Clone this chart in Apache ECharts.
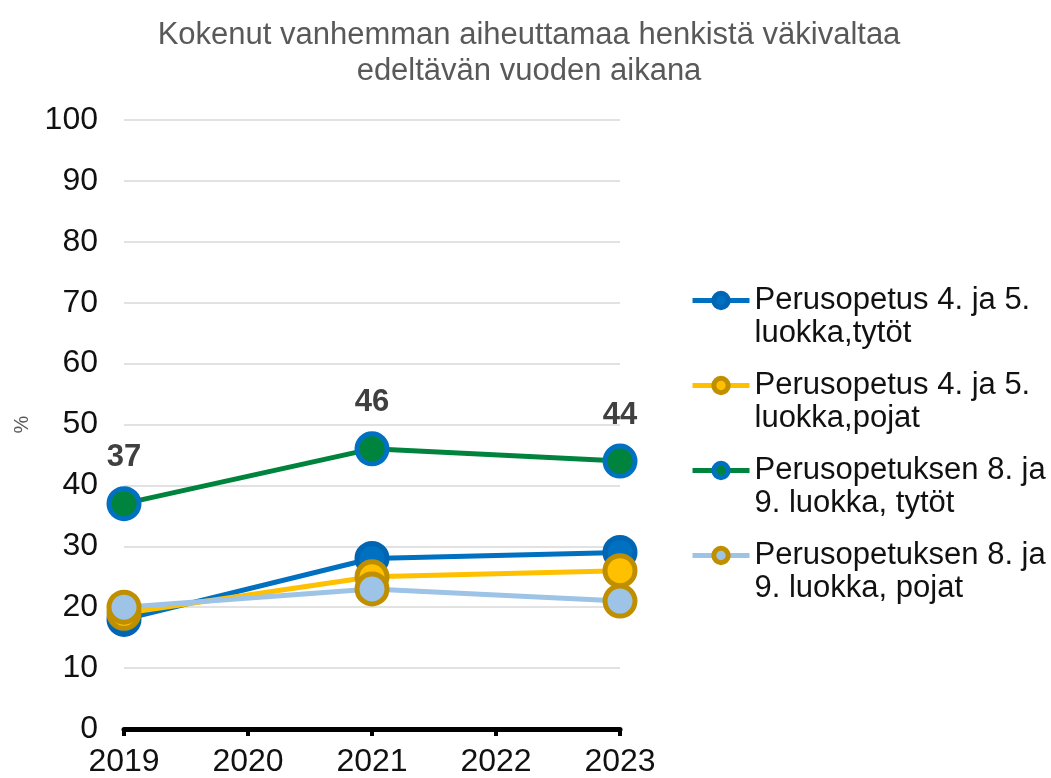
<!DOCTYPE html>
<html>
<head>
<meta charset="utf-8">
<script src="https://cdn.jsdelivr.net/npm/echarts@6/dist/echarts.min.js"></script>
<style>
  html, body { margin: 0; padding: 0; background: #fff; }
  #chart { width: 1051px; height: 778px; }
</style>
</head>
<body>
<div id="chart"></div>
<script>
// data
const years = [2019, 2021, 2023];
const seriesNames = [
  'Perusopetus 4. ja 5.\nluokka,tytöt',
  'Perusopetus 4. ja 5.\nluokka,pojat',
  'Perusopetuksen 8. ja\n9. luokka, tytöt',
  'Perusopetuksen 8. ja\n9. luokka, pojat'
];
const girls45 = [18, 28, 29];
const boys45 = [19, 25, 26];
const girls89 = [37, 46, 44];
const boys89 = [20, 23, 21];
const xTicks = [2019, 2020, 2021, 2022, 2023];

const lineColors = ['#0070C0', '#FFC000', '#00843D', '#9DC3E6'];
const fillColors = ['#0070C0', '#FFC000', '#00843D', '#9DC3E6'];
const borderColors = ['#0066B3', '#BF8F00', '#0070C0', '#BF8F00'];
const values = [girls45, boys45, girls89, boys89];

const chart = echarts.init(document.getElementById('chart'));

const series = values.map((vals, i) => ({
  name: seriesNames[i],
  type: 'line',
  data: years.map((y, k) => [y, vals[k]]),
  symbol: 'circle',
  symbolSize: 30,
  lineStyle: { color: lineColors[i], width: 5 },
  itemStyle: { color: fillColors[i], borderColor: borderColors[i], borderWidth: 5 },
  label: i === 2 ? {
    show: true, position: 'top', distance: 13,
    fontFamily: 'Liberation Sans', fontSize: 31, fontWeight: 'bold', color: '#404040'
  } : { show: false },
  emphasis: { disabled: true },
  animation: false
}));

// one legend per entry; a blank first line keeps the icon level with the first text line
const legendTops = [251, 336, 421, 506];
const legends = seriesNames.map((n, i) => ({
  data: [n],
  left: 690,
  top: legendTops[i],
  padding: 0,
  itemWidth: 57,
  itemHeight: 18,
  selectedMode: false,
  formatter: name => ' \n' + name,
  lineStyle: { width: 5 },
  itemStyle: { borderWidth: 5 },
  textStyle: { fontFamily: 'Liberation Sans', fontSize: 31, lineHeight: 33, color: '#111' }
}));

chart.setOption({
  animation: false,
  title: {
    text: 'Kokenut vanhemman aiheuttamaa henkistä väkivaltaa\nedeltävän vuoden aikana',
    left: 524, top: 12, textAlign: 'center',
    textStyle: { fontFamily: 'Liberation Sans', fontSize: 31, lineHeight: 36, fontWeight: 'normal', color: '#595959' }
  },
  legend: legends,
  grid: { left: 124, right: 431, top: 120, bottom: 49, containLabel: false },
  xAxis: {
    type: 'value', min: xTicks[0], max: xTicks[xTicks.length - 1], interval: 1,
    axisLine: { show: true, lineStyle: { color: '#000', width: 5 } },
    axisTick: { show: true, length: 7, lineStyle: { color: '#000', width: 4 } },
    splitLine: { show: false },
    axisLabel: {
      margin: 17, fontFamily: 'Liberation Sans', fontSize: 32, color: '#111',
      formatter: v => String(v)
    }
  },
  yAxis: {
    type: 'value', min: 0, max: 100, interval: 10,
    name: '%', nameLocation: 'middle', nameGap: 92, nameRotate: 90,
    nameTextStyle: { fontFamily: 'Liberation Sans', fontSize: 20, color: '#595959' },
    axisLine: { show: false }, axisTick: { show: false },
    splitLine: { lineStyle: { color: '#D9D9D9', width: 1.5 } },
    axisLabel: { margin: 26, fontFamily: 'Liberation Sans', fontSize: 32, color: '#111' }
  },
  series
});
</script>
</body>
</html>
